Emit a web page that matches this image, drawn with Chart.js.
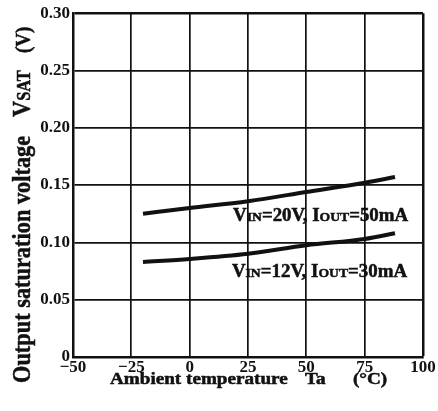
<!DOCTYPE html>
<html>
<head>
<meta charset="utf-8">
<script src="https://cdn.jsdelivr.net/npm/chart.js@4.4.1/dist/chart.umd.min.js"></script>
<style>
  body { margin: 0; background: #fff; }
  canvas { display: block; }
</style>
</head>
<body>
<canvas id="vsatChart" width="438" height="411"></canvas>
<script>
// values (Ta in °C, VSAT in V)
const temps = [-20, 0, 25, 50, 75, 88];
const vsat20V = [0.125, 0.130, 0.136, 0.144, 0.152, 0.157];
const vsat12V = [0.083, 0.0855, 0.090, 0.0975, 0.103, 0.108];

const xTicks = [-50, -25, 0, 25, 50, 75, 100];
const yTicks = [0, 0.05, 0.10, 0.15, 0.20, 0.25, 0.30];

const SERIF = '"Liberation Serif", "Times New Roman", serif';
const INK = '#111';

// draw a run of text pieces, small pieces are the subscripts
function drawParts(ctx, parts, size, sx) {
  let x = 0;
  parts.forEach(p => {
    const s = p.size || (p.sub ? Math.round(size * 0.72) : size);
    ctx.font = `bold ${s}px ${SERIF}`;
    if (p.at !== undefined) x = p.at / sx;
    ctx.fillText(p.t, x, 0);
    ctx.strokeText(p.t, x, 0);
    x += ctx.measureText(p.t).width;
  });
}

function drawRun(ctx, x0, y0, angle, sx, size, parts) {
  ctx.save();
  ctx.translate(x0, y0);
  ctx.rotate(angle);
  ctx.scale(sx, 1);
  ctx.fillStyle = INK;
  ctx.strokeStyle = INK;
  ctx.lineWidth = 0.5;
  ctx.textBaseline = 'alphabetic';
  ctx.textAlign = 'left';
  drawParts(ctx, parts, size, sx);
  ctx.restore();
}

const textPlugin = {
  id: 'textPlugin',
  afterDraw(chart) {
    const ctx = chart.ctx;
    const xs = chart.scales.x, ys = chart.scales.y;

    // curve labels
    drawRun(ctx, xs.getPixelForValue(18.6), ys.getPixelForValue(0.1186), 0, 1.05, 18, [
      { t: 'V' }, { t: 'IN', sub: true }, { t: '=20V, I' }, { t: 'OUT', sub: true }, { t: '=50mA' }
    ]);
    drawRun(ctx, xs.getPixelForValue(18.1), ys.getPixelForValue(0.0698), 0, 1.05, 18, [
      { t: 'V' }, { t: 'IN', sub: true }, { t: '=12V, I' }, { t: 'OUT', sub: true }, { t: '=30mA' }
    ]);

    // x axis title
    drawRun(ctx, 110, 384, 0, 1.16, 16.5, [
      { t: 'Ambient temperature' }, { t: 'Ta', at: 195 }, { t: '(°C)', at: 243 }
    ]);

    // y axis title
    drawRun(ctx, 30, 383, -Math.PI / 2, 0.86, 26, [
      { t: 'Output saturation voltage' }, { t: 'V', at: 266 }, { t: 'SAT', sub: true },
      { t: '(V)', at: 330, size: 22 }
    ]);
  }
};

const lineStyle = {
  borderColor: INK,
  borderWidth: 4,
  pointRadius: 0,
  fill: false,
  cubicInterpolationMode: 'monotone'
};

new Chart(document.getElementById('vsatChart'), {
  type: 'line',
  data: {
    datasets: [
      { label: 'VIN=20V, IOUT=50mA', data: temps.map((t, i) => ({ x: t, y: vsat20V[i] })), ...lineStyle },
      { label: 'VIN=12V, IOUT=30mA', data: temps.map((t, i) => ({ x: t, y: vsat12V[i] })), ...lineStyle }
    ]
  },
  options: {
    responsive: false,
    animation: false,
    layout: { padding: { left: 0, top: 13, right: 15, bottom: 0 } },
    plugins: { legend: { display: false }, tooltip: { enabled: false } },
    scales: {
      x: {
        type: 'linear',
        min: -50,
        max: 100,
        afterBuildTicks: s => { s.ticks = xTicks.map(v => ({ value: v })); },
        afterFit: s => { s.height = 54; },
        ticks: {
          color: INK,
          padding: 0,
          maxRotation: 0,
          font: { family: SERIF, size: 17, weight: 'bold' },
          callback: v => v < 0 ? '−' + Math.abs(v) : String(v)
        },
        grid: {
          color: INK,
          drawTicks: false,
          lineWidth: c => (c.tick && c.tick.value === 100 ? 2.5 : 1.7)
        },
        border: { color: INK, width: 2.5 }
      },
      y: {
        min: 0,
        max: 0.3,
        afterBuildTicks: s => { s.ticks = yTicks.map(v => ({ value: v })); },
        afterFit: s => { s.width = 73; },
        ticks: {
          color: INK,
          padding: 3,
          font: { family: SERIF, size: 17, weight: 'bold' },
          callback: v => v === 0 ? '0' : v.toFixed(2)
        },
        grid: {
          color: INK,
          drawTicks: false,
          lineWidth: c => (c.tick && Math.abs(c.tick.value - 0.3) < 1e-9 ? 2.5 : 1.7)
        },
        border: { color: INK, width: 2.5 }
      }
    }
  },
  plugins: [textPlugin]
});
</script>
</body>
</html>
